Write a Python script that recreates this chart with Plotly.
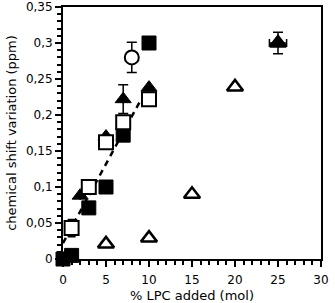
import plotly.graph_objects as go

# Data
fsq_x = [0, 1, 3, 5, 7, 10]
fsq_y = [0.0, 0.005, 0.071, 0.10, 0.172, 0.30]

osq_x = [1, 3, 5, 7, 10]
osq_y = [0.043, 0.10, 0.162, 0.19, 0.222]
osq_err = [0.012, 0, 0, 0, 0]

ftri_x = [2, 5, 7, 10, 25]
ftri_y = [0.088, 0.17, 0.222, 0.238, 0.30]
ftri_err = [0, 0, 0.02, 0, 0.015]
ftri_xerr = [0, 0, 0, 0, 1.0]

otri_x = [5, 10, 15, 20, 25]
otri_y = [0.021, 0.029, 0.09, 0.239, 0.30]

circ_x = [8]
circ_y = [0.28]
circ_err = [0.021]

fit_x = [0, 9]
fit_y = [0.022, 0.22]

x_ticks = [0, 5, 10, 15, 20, 25, 30]
y_ticks = [0, 0.05, 0.1, 0.15, 0.2, 0.25, 0.3, 0.35]
y_ticklabels = ["0", "0,05", "0,1", "0,15", "0,2", "0,25", "0,3", "0,35"]

fig = go.Figure()

fig.add_trace(go.Scatter(x=fit_x, y=fit_y, mode="lines",
                         line=dict(color="black", width=2.5, dash="6px,5px"),
                         showlegend=False))

fig.add_trace(go.Scatter(x=otri_x, y=otri_y, mode="markers", cliponaxis=False,
                         marker=dict(symbol="triangle-up", size=14, color="white",
                                     line=dict(color="black", width=2.5)),
                         showlegend=False))

fig.add_trace(go.Scatter(x=ftri_x, y=ftri_y, mode="markers", cliponaxis=False,
                         marker=dict(symbol="triangle-up", size=14, color="black",
                                     line=dict(color="black", width=1)),
                         error_y=dict(type="data", array=ftri_err, color="black",
                                      thickness=1.5, width=5),
                         error_x=dict(type="data", array=ftri_xerr, color="black",
                                      thickness=1.5, width=4),
                         showlegend=False))

fig.add_trace(go.Scatter(x=fsq_x, y=fsq_y, mode="markers", cliponaxis=False,
                         marker=dict(symbol="square", size=14, color="black",
                                     line=dict(color="black", width=1)),
                         showlegend=False))

fig.add_trace(go.Scatter(x=osq_x, y=osq_y, mode="markers", cliponaxis=False,
                         marker=dict(symbol="square", size=14, color="white",
                                     line=dict(color="black", width=2)),
                         error_y=dict(type="data", array=osq_err, color="black",
                                      thickness=1.5, width=4),
                         showlegend=False))

fig.add_trace(go.Scatter(x=circ_x, y=circ_y, mode="markers", cliponaxis=False,
                         marker=dict(symbol="circle", size=14, color="white",
                                     line=dict(color="black", width=2)),
                         error_y=dict(type="data", array=circ_err, color="black",
                                      thickness=1.5, width=5),
                         showlegend=False))

font = dict(family="DejaVu Sans, Arial, sans-serif", size=12, color="black")

fig.update_layout(
    width=335, height=303,
    margin=dict(l=63, r=14, t=7, b=44),
    paper_bgcolor="white", plot_bgcolor="white",
    font=font,
    xaxis=dict(range=[0, 30], tickvals=x_ticks, ticks="outside", ticklen=6,
               tickwidth=1.5, tickcolor="black", showgrid=False, zeroline=False,
               showline=True, linecolor="black", linewidth=2, mirror=True,
               ticklabelstandoff=3, automargin=False,
               minor=dict(dtick=1, ticks="outside", ticklen=4, tickwidth=1.5,
                          tickcolor="black"),
               title=dict(text="% LPC added (mol)", font=dict(size=13), standoff=6),
               tickfont=dict(size=12)),
    yaxis=dict(range=[0, 0.35], tickvals=y_ticks, ticktext=y_ticklabels,
               ticks="outside", ticklen=6, tickwidth=1.5, tickcolor="black",
               showgrid=False, zeroline=False, showline=True, linecolor="black",
               linewidth=2, mirror=True, automargin=False,
               minor=dict(dtick=0.01, ticks="outside", ticklen=4, tickwidth=1.5,
                          tickcolor="black"),
               title=dict(text="chemical shift variation (ppm)", font=dict(size=13),
                          standoff=6),
               tickfont=dict(size=12)),
)

fig.write_html("out.html")
